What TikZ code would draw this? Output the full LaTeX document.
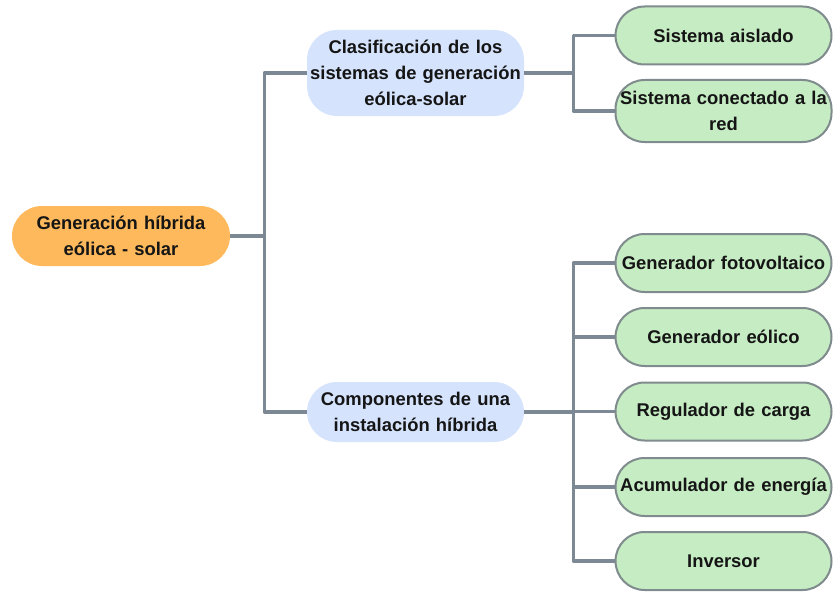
\documentclass[tikz,border=0pt]{standalone}
\usepackage{fontspec}
\setmainfont{Liberation Sans}
\usepackage{xcolor}
\usepackage{tikz}
\definecolor{rootfill}{HTML}{FDB95B}
\definecolor{branchfill}{HTML}{D5E3FC}
\definecolor{leaffill}{HTML}{C6ECC3}
\definecolor{leafline}{HTML}{7F8B8C}
\definecolor{linkgray}{HTML}{7C8994}
\definecolor{textdark}{HTML}{151515}

\begin{document}
\begin{tikzpicture}[x=0.75pt, y=-0.75pt, line join=round,
    box/.style={rectangle, align=center, inner sep=0pt, text=textdark,
        font=\bfseries\fontsize{13.8}{19.5}\selectfont},
    rootbox/.style={box, fill=rootfill, minimum width=163.5pt, minimum height=45pt,
        rounded corners=22.5pt, text width=160pt},
    branchbox/.style={box, fill=branchfill, minimum width=162.75pt, minimum height=45pt,
        rounded corners=22.5pt, text width=160pt},
    leafbox/.style={box, fill=leaffill, draw=leafline, line width=1.5pt,
        minimum width=162pt, minimum height=43.5pt, rounded corners=21.75pt, text width=158pt},
    link/.style={draw=linkgray, line width=2.4pt}]

    % Margini
    \useasboundingbox (0,0) rectangle (835,592);

    % Radice
    \node[rootbox] (root) at (121,236) {Generación híbrida\\eólica - solar};

    % Rami
    \node[branchbox, minimum height=64.5pt] (clas) at (415.5,73)
        {Clasificación de los\\sistemas de generación\\eólica-solar};
    \node[branchbox] (comp) at (415.5,412) {Componentes de una\\instalación híbrida};

    % Foglie: sistemi
    \node[leafbox] (aislado) at (723.5,35.5) {Sistema aislado};
    \node[leafbox, minimum height=46.5pt] (red) at (723.5,111) {Sistema conectado a la\\red};

    % Foglie: componenti
    \node[leafbox] (foto) at (723.5,263) {Generador fotovoltaico};
    \node[leafbox] (eolico) at (723.5,337) {Generador eólico};
    \node[leafbox] (regul) at (723.5,411.5) {Regulador de carga};
    \node[leafbox] (acum) at (723.5,487) {Acumulador de energía};
    \node[leafbox] (inv) at (723.5,561) {Inversor};

    % Connettori
    \draw[link] (root.east) -- ++(34,0) |- (clas.west);
    \draw[link] (root.east) -- ++(34,0) |- (comp.west);

    \draw[link] (clas.east) -- ++(49,0) |- (aislado.west);
    \draw[link] (clas.east) -- ++(49,0) |- (red.west);

    \foreach \leaf in {foto, eolico, regul, acum, inv}
        \draw[link] (comp.east) -- ++(49,0) |- (\leaf.west);

\end{tikzpicture}
\end{document}
